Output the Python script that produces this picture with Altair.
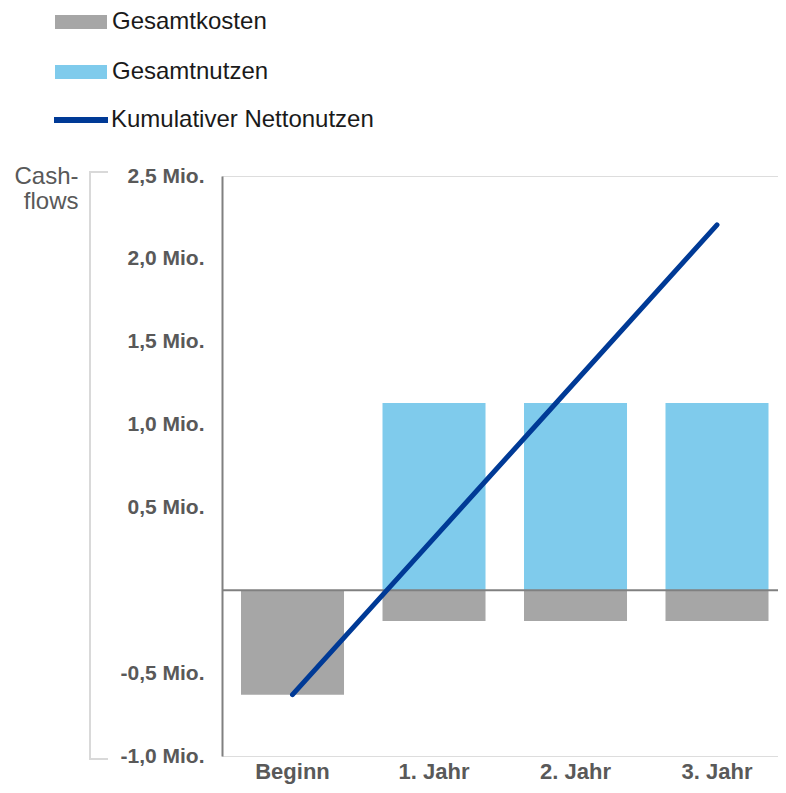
import altair as alt
import pandas as pd

categories = ["Beginn", "1. Jahr", "2. Jahr", "3. Jahr"]
kosten = [-0.63, -0.185, -0.185, -0.185]
nutzen = [0.0, 1.13, 1.13, 1.13]
kumuliert = [-0.63, 0.315, 1.26, 2.205]
y_ticks = [-1.0, -0.5, 0.5, 1.0, 1.5, 2.0, 2.5]
series = ["Gesamtkosten", "Gesamtnutzen"]
line_name = "Kumulativer Nettonutzen"

FONT = "Liberation Sans"
GRAY_TXT = "#595959"

PLOT_W, PLOT_H = 556, 580

bars_df = pd.DataFrame({
    "Zeitpunkt": categories * 2,
    "Wert": kosten + nutzen,
    "Serie": [series[0]] * 4 + [series[1]] * 4,
})
line_df = pd.DataFrame({"Zeitpunkt": categories, "Wert": kumuliert, "Linie": [line_name] * 4})

x_enc = alt.X("Zeitpunkt:N", sort=categories,
              scale=alt.Scale(domain=categories, paddingInner=0.272, paddingOuter=0.1007, align=0.667),
              axis=alt.Axis(title=None, domain=False, ticks=False, labelAngle=0, labelPadding=5,
                            labelFontSize=22, labelFontWeight="bold", labelColor=GRAY_TXT, labelFont=FONT))

y_scale = alt.Scale(domain=[-1.0, 2.5], nice=False, zero=False)
label_expr = "(datum.value < 0 ? '-' : '') + replace(format(abs(datum.value), '.1f'), '.', ',') + ' Mio.'"

bars = alt.Chart(bars_df).mark_bar().encode(
    x=x_enc,
    y=alt.Y("Wert:Q", stack=None, scale=y_scale,
            axis=alt.Axis(values=y_ticks, labelExpr=label_expr, grid=False, ticks=False,
                          domainColor="#808080", domainWidth=2, labelPadding=18,
                          labelFontSize=21, labelFontWeight="bold", labelColor=GRAY_TXT, labelFont=FONT,
                          title=["Cash-", "flows"], titleAngle=0, titleAlign="right", titleBaseline="top",
                          titleX=-144, titleY=-12, titleFontWeight="normal", titleFontSize=24,
                          titleColor=GRAY_TXT, titleFont=FONT, titleLineHeight=25)),
    color=alt.Color("Serie:N", scale=alt.Scale(domain=series, range=["#a6a6a6", "#7fcbec"]),
                    legend=alt.Legend(orient="none", legendX=-167, legendY=-180, title=None,
                                      symbolType="M-1,-0.27H1V0.27H-1Z", symbolSize=2704,
                                      symbolStrokeWidth=0, symbolOpacity=1, labelFontSize=24,
                                      labelFont=FONT, labelColor="#1a1a1a", labelOffset=5,
                                      rowPadding=12, padding=0, labelLimit=0)),
)

zero = alt.Chart(pd.DataFrame({"y": [0.0]})).mark_rule(color="#808080", strokeWidth=2).encode(
    y=alt.Y("y:Q", scale=y_scale)
)

line = alt.Chart(line_df).mark_line(strokeWidth=5, strokeCap="round").encode(
    x=alt.X("Zeitpunkt:N", sort=categories),
    y=alt.Y("Wert:Q", scale=y_scale),
    stroke=alt.Stroke("Linie:N", scale=alt.Scale(domain=[line_name], range=["#003a96"]),
                      legend=alt.Legend(orient="none", legendX=-171, legendY=-86, title=None,
                                        symbolType="stroke", symbolSize=2916, symbolStrokeWidth=6,
                                        labelFontSize=24, labelFont=FONT, labelColor="#1a1a1a",
                                        labelOffset=0, padding=0, labelLimit=0)),
)

dummy = pd.DataFrame({"a": [0]})
br_v = alt.Chart(dummy).mark_rule(color="#d9d9d9", strokeWidth=2).encode(
    x=alt.value(-132), y=alt.value(-4), y2=alt.value(PLOT_H + 3))
br_t = alt.Chart(dummy).mark_rule(color="#d9d9d9", strokeWidth=2).encode(
    x=alt.value(-133), x2=alt.value(-114), y=alt.value(-4))
br_b = alt.Chart(dummy).mark_rule(color="#d9d9d9", strokeWidth=2).encode(
    x=alt.value(-133), x2=alt.value(-114), y=alt.value(PLOT_H + 3))

chart = alt.layer(bars, zero, line, br_v, br_t, br_b).resolve_scale(
    color="independent", stroke="independent"
).properties(
    width=PLOT_W, height=PLOT_H,
    padding={"left": 214, "top": 168, "right": 0, "bottom": 29},
    autosize="none",
).configure_view(stroke=None).configure(font=FONT)

chart.save("out.html", embed_options={"renderer": "svg", "actions": False})
